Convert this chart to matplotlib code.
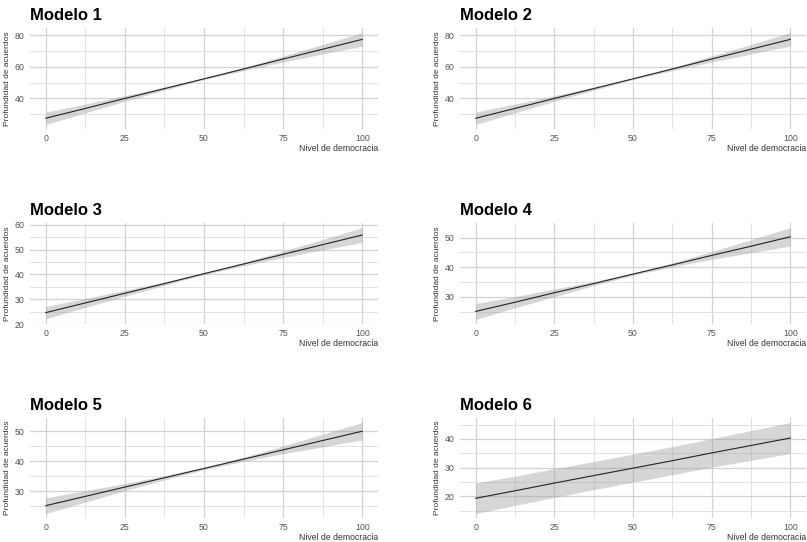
import matplotlib
matplotlib.use("Agg")
import matplotlib.pyplot as plt

plt.rcParams['font.family'] = ['Liberation Sans', 'DejaVu Sans']

# data
democracia = [0, 12.5, 25, 37.5, 50, 62.5, 75, 87.5, 100]

titles = ['Modelo 1', 'Modelo 2', 'Modelo 3', 'Modelo 4', 'Modelo 5', 'Modelo 6']

fit_m1 = [27.5, 33.7, 40.0, 46.2, 52.4, 58.6, 64.9, 71.1, 77.3]
lo_m1 = [23.6, 30.9, 38.2, 45.2, 51.9, 57.6, 63.0, 68.1, 73.0]
hi_m1 = [31.4, 36.5, 41.8, 47.2, 52.9, 59.6, 66.8, 74.1, 81.6]

fit_m2 = [27.5, 33.7, 40.0, 46.2, 52.4, 58.6, 64.9, 71.1, 77.3]
lo_m2 = [23.6, 30.9, 38.2, 45.2, 51.9, 57.6, 63.0, 68.1, 73.0]
hi_m2 = [31.4, 36.5, 41.8, 47.2, 52.9, 59.6, 66.8, 74.1, 81.6]

fit_m3 = [24.6, 28.5, 32.4, 36.3, 40.3, 44.2, 48.1, 52.0, 55.9]
lo_m3 = [22.1, 26.7, 31.2, 35.6, 39.9, 43.5, 46.8, 49.9, 52.9]
hi_m3 = [27.1, 30.3, 33.6, 37.0, 40.7, 44.9, 49.4, 54.1, 58.9]

fit_m4 = [25.1, 28.2, 31.4, 34.5, 37.7, 40.8, 44.0, 47.1, 50.3]
lo_m4 = [22.4, 26.3, 30.1, 33.8, 37.3, 40.1, 42.7, 44.9, 47.2]
hi_m4 = [27.8, 30.1, 32.7, 35.2, 38.1, 41.5, 45.3, 49.3, 53.4]

fit_m5 = [25.2, 28.3, 31.4, 34.5, 37.6, 40.7, 43.8, 46.9, 50.0]
lo_m5 = [22.6, 26.4, 30.2, 33.8, 37.2, 40.0, 42.5, 44.8, 47.1]
hi_m5 = [27.8, 30.2, 32.6, 35.2, 38.0, 41.4, 45.1, 49.0, 52.9]

fit_m6 = [19.3, 21.9, 24.6, 27.2, 29.8, 32.4, 35.1, 37.7, 40.3]
lo_m6 = [14.0, 16.8, 19.6, 22.3, 24.9, 27.5, 30.1, 32.5, 34.9]
hi_m6 = [24.6, 27.0, 29.6, 32.1, 34.7, 37.3, 40.1, 42.9, 45.7]

x_ticks = [0, 25, 50, 75, 100]
x_minor = [12.5, 37.5, 62.5, 87.5]
y_ticks = [[40, 60, 80], [40, 60, 80], [20, 30, 40, 50, 60],
           [30, 40, 50], [30, 40, 50], [20, 30, 40]]
y_minor = [[30, 50, 70], [30, 50, 70], [25, 35, 45, 55],
           [25, 35, 45], [25, 35, 45], [15, 25, 35, 45]]

fits = [fit_m1, fit_m2, fit_m3, fit_m4, fit_m5, fit_m6]
los = [lo_m1, lo_m2, lo_m3, lo_m4, lo_m5, lo_m6]
his = [hi_m1, hi_m2, hi_m3, hi_m4, hi_m5, hi_m6]

W, H = 807, 542
fig = plt.figure(figsize=(W / 100, H / 100), dpi=100)

cols = [(30, 378), (460, 806)]
rows = [(28, 129), (223, 324), (418, 518)]

for i in range(6):
    r, c = divmod(i, 2)
    x0, x1 = cols[c]
    top, bot = rows[r]
    ax = fig.add_axes([x0 / W, 1 - bot / H, (x1 - x0) / W, (bot - top) / H])

    ax.fill_between(democracia, los[i], his[i], color='#999999', alpha=0.4, lw=0, zorder=2)
    ax.plot(democracia, fits[i], color='#222222', lw=0.8, zorder=3)

    ax.set_xlim(-5, 105)
    ax.margins(y=0.05)
    ax.set_xticks(x_ticks)
    ax.set_xticks(x_minor, minor=True)
    ax.set_yticks(y_ticks[i])
    ax.set_yticks(y_minor[i], minor=True)

    ax.grid(which='major', color='#d2d2d2', lw=0.9, zorder=0)
    ax.grid(which='minor', color='#e2e2e2', lw=0.7, zorder=0)
    ax.set_axisbelow(True)
    for s in ax.spines.values():
        s.set_visible(False)
    ax.tick_params(which='both', length=0, labelsize=6.3, colors='#555555', pad=4)
    ax.tick_params(axis='x', pad=3.8)

    ax.set_title(titles[i], loc='left', fontsize=12, fontweight='bold', pad=6)
    ax.set_xlabel('Nivel de democracia', loc='right', fontsize=6.2, color='#333333', labelpad=0.3)
    ax.set_ylabel('Profundidad de acuerdos', fontsize=6, color='#333333')
    ax.yaxis.set_label_coords(-0.055, 0.5)

fig.savefig('out.png', dpi=100)
